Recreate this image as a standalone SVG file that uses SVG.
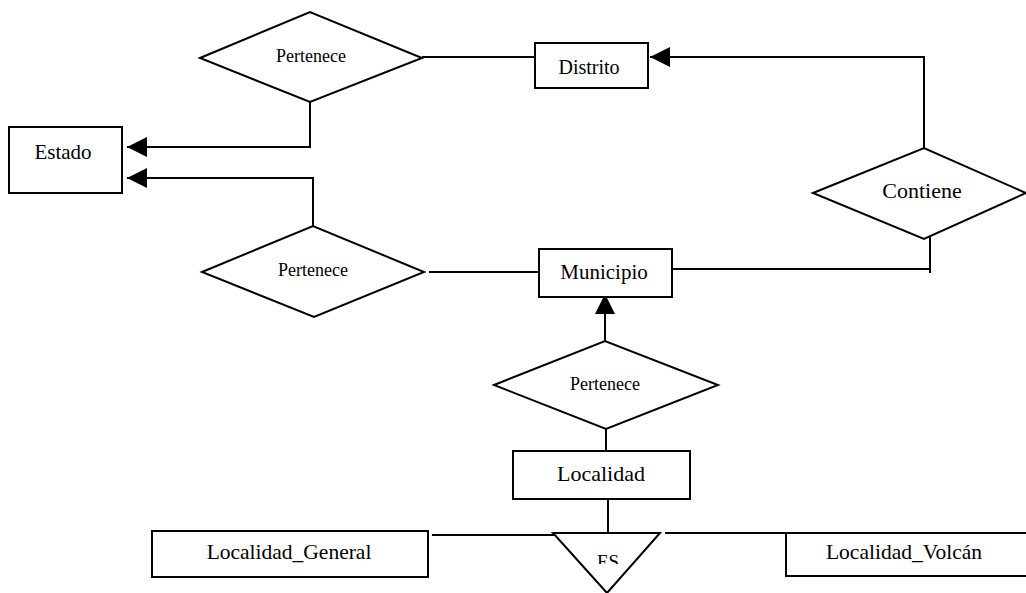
<svg xmlns="http://www.w3.org/2000/svg" width="1026" height="593" viewBox="0 0 1026 593">
<style>
.s{fill:#fff;stroke:#000;stroke-width:2}
.l{fill:none;stroke:#000;stroke-width:2}
.t{font-family:"Liberation Serif","Times New Roman",serif;fill:#000;text-anchor:middle}
</style>
<defs>
<marker id="ah" markerUnits="userSpaceOnUse" markerWidth="20" markerHeight="20" viewBox="0 0 20 20" refX="20" refY="10" orient="auto">
<path d="M0,0 L20,10 L0,20 Z" fill="#000"/>
</marker>
<clipPath id="esclip"><rect x="560" y="540" width="100" height="24"/></clipPath>
</defs>
<rect width="1026" height="593" fill="#fff"/>
<g id="connectors">
<path class="l" d="M310,102 V147 H127" marker-end="url(#ah)"/>
<path class="l" d="M313,226 V178 H127" marker-end="url(#ah)"/>
<path class="l" d="M422,57 H535"/>
<path class="l" d="M924,148 V57 H650" marker-end="url(#ah)"/>
<path class="l" d="M429,272 H539"/>
<path class="l" d="M672,269 H930"/>
<path class="l" d="M930,237 V273"/>
<path class="l" d="M605,341 V294" marker-end="url(#ah)"/>
<path class="l" d="M606,429 V451"/>
<path class="l" d="M608,499 V533"/>
<path class="l" d="M432,535 H554"/>
<path class="l" d="M665,533 H786"/>
</g>
<g id="estado">
<rect class="s" x="9" y="127" width="113" height="66"/>
<text class="t" x="63" y="159" font-size="21">Estado</text>
</g>
<g id="pertenece1">
<polygon class="s" points="200,58 310,12 422,58 310,102"/>
<text class="t" x="311" y="62" font-size="18">Pertenece</text>
</g>
<g id="distrito">
<rect class="s" x="535" y="43" width="113" height="45"/>
<text class="t" x="589" y="74" font-size="20">Distrito</text>
</g>
<g id="contiene">
<polygon class="s" points="813,193 924,148 1026,193 924,239"/>
<text class="t" x="922" y="198" font-size="22">Contiene</text>
</g>
<g id="pertenece2">
<polygon class="s" points="202,272 313,226 424,272 314,317"/>
<text class="t" x="313" y="276" font-size="18">Pertenece</text>
</g>
<g id="municipio">
<rect class="s" x="539" y="249" width="133" height="48"/>
<text class="t" x="604" y="279" font-size="21">Municipio</text>
</g>
<g id="pertenece3">
<polygon class="s" points="494,385 605,341 718,385 606,429"/>
<text class="t" x="605" y="390" font-size="18">Pertenece</text>
</g>
<g id="localidad">
<rect class="s" x="513" y="451" width="177" height="48"/>
<text class="t" x="601" y="481" font-size="22">Localidad</text>
</g>
<g id="es">
<polygon class="s" points="553,533 660,533 607,593"/>
<text class="t" x="608" y="568" font-size="19" clip-path="url(#esclip)">ES</text>
</g>
<g id="localidad_general">
<rect class="s" x="152" y="531" width="276" height="46"/>
<text class="t" x="289" y="559" font-size="21.5">Localidad_General</text>
</g>
<g id="localidad_volcan">
<rect class="s" x="786" y="533" width="250" height="43"/>
<text class="t" x="904" y="559" font-size="21.5">Localidad_Volcán</text>
</g>
</svg>
